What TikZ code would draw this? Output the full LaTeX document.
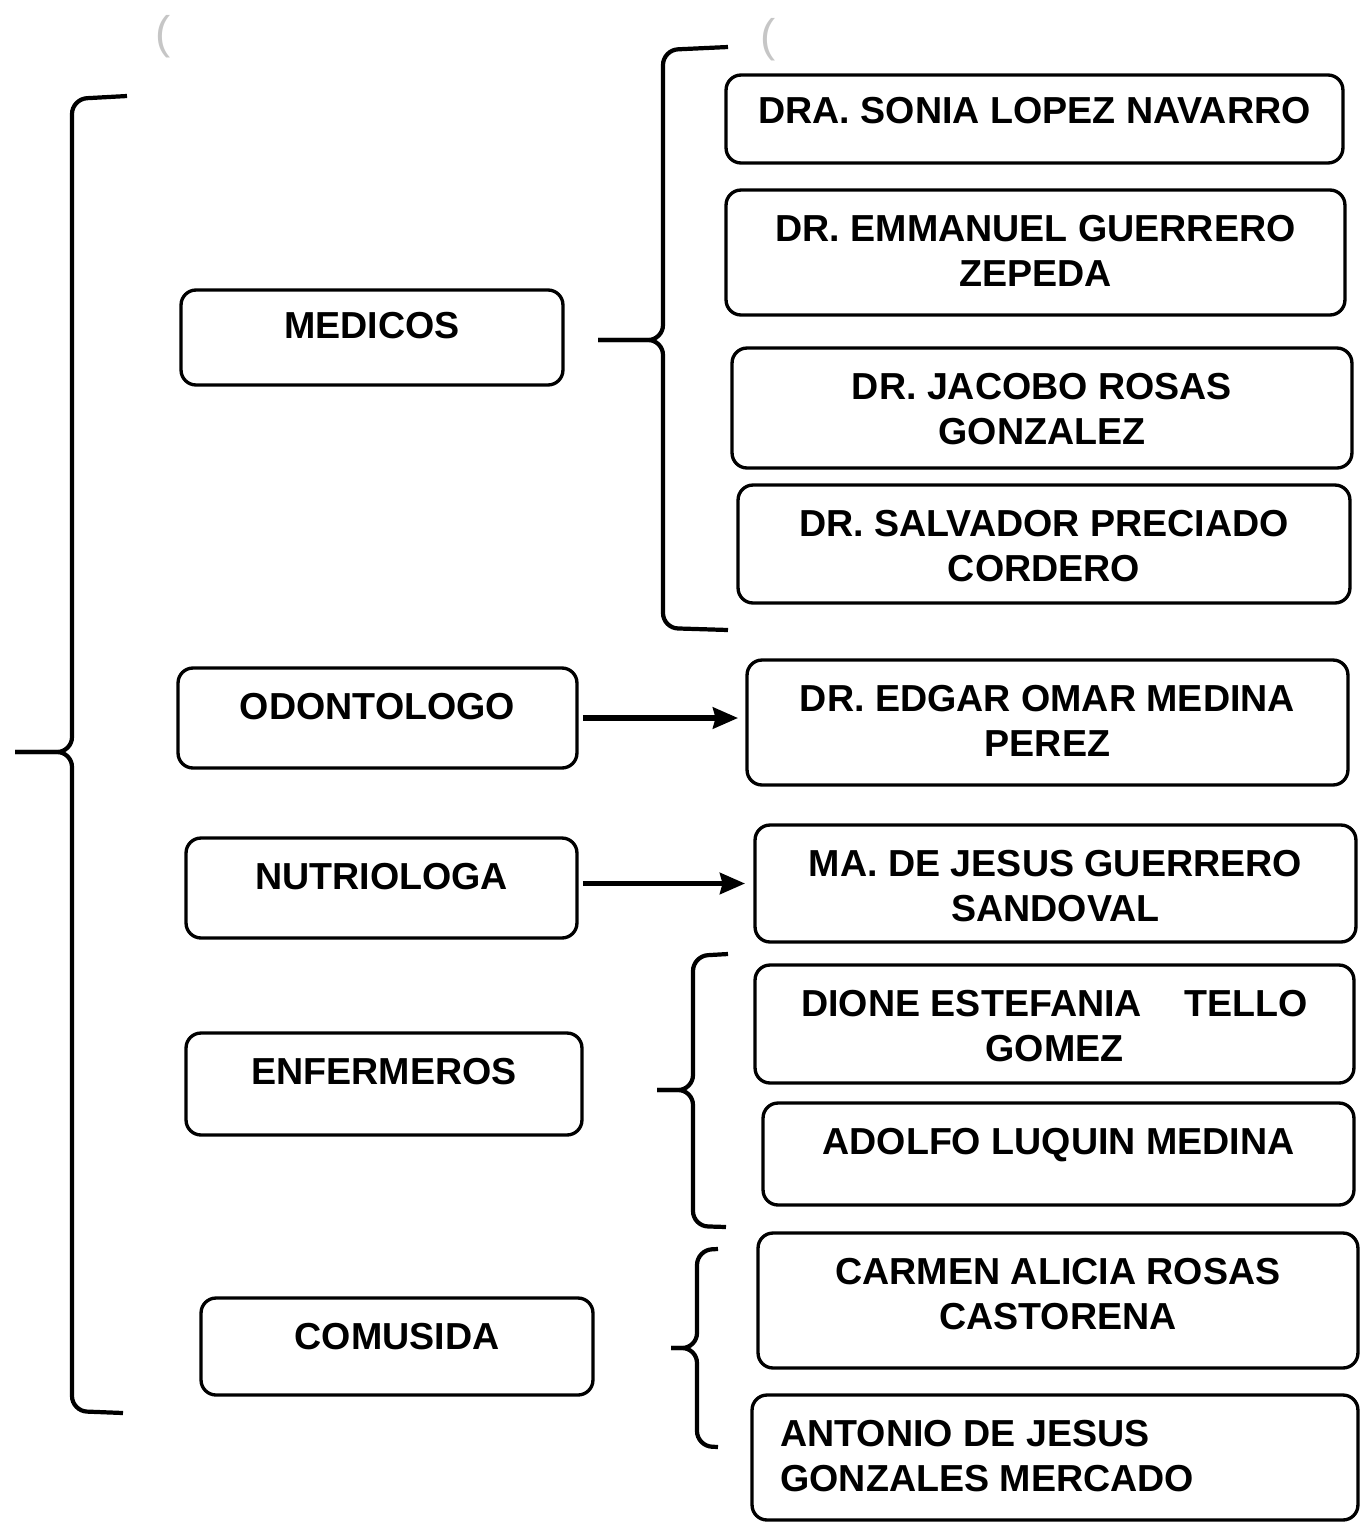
\documentclass[tikz,border=0pt]{standalone}
\usepackage{fontspec}
\setmainfont{Liberation Sans}
\usepackage{tikz}
\usetikzlibrary{
    arrows.meta,
    positioning
}
\tikzstyle{box} = [
    rectangle, draw,
    rounded corners=0.3cm,
    line width=1.9pt,
    inner sep=0pt,
    outer sep=0pt
]
\tikzstyle{txt} = [
    anchor=north,
    yshift=-0.5cm,
    inner sep=0pt,
    align=center,
    font=\bfseries\fontsize{21.4}{25.6}\selectfont
]
\tikzstyle{brace} = [
    line width=2.4pt,
    rounded corners=0.3cm
]
\tikzstyle{arrow} = [
    line width=3pt,
    -{Stealth[length=0.5cm, width=0.42cm, inset=0.05cm]}
]

\begin{document}
\begin{tikzpicture}[
    x=0.02cm, y=-0.02cm,
    smudge/.style={text=gray!45, inner sep=0pt, font=\fontsize{26}{26}\selectfont}
]
\useasboundingbox (0,0) rectangle (1361,1526);

% Kategorien
\node (medicos) [box, minimum width=7.64cm, minimum height=1.9cm] at (372,337.5)
    [label={[txt, yshift=0.06cm]north:MEDICOS}] {};
\node (odontologo) [box, minimum width=7.98cm, minimum height=2cm] at (377.5,718)
    [label={[txt]north:ODONTOLOGO}] {};
\node (nutriologa) [box, minimum width=7.82cm, minimum height=2cm] at (381.5,888)
    [label={[txt]north:NUTRIOLOGA}] {};
\node (enfermeros) [box, minimum width=7.92cm, minimum height=2.04cm] at (384,1084)
    [label={[txt]north:ENFERMEROS}] {};
\node (comusida) [box, minimum width=7.84cm, minimum height=1.94cm] at (397,1346.5)
    [label={[txt]north:COMUSIDA}] {};

% Personal
\node (lopez) [box, minimum width=12.34cm, minimum height=1.76cm] at (1034.5,119)
    [label={[txt, yshift=0.06cm]north:DRA. SONIA LOPEZ NAVARRO}] {};
\node (guerrero) [box, minimum width=12.38cm, minimum height=2.5cm] at (1035.5,252.5)
    [label={[txt]north:{DR. EMMANUEL GUERRERO\\ZEPEDA}}] {};
\node (rosas) [box, minimum width=12.4cm, minimum height=2.4cm] at (1042,408)
    [label={[txt]north:{DR. JACOBO ROSAS\\GONZALEZ}}] {};
\node (preciado) [box, minimum width=12.24cm, minimum height=2.36cm] at (1044,544)
    [label={[txt]north:{DR. SALVADOR PRECIADO\\CORDERO}}] {};
\node (medina) [box, minimum width=12.02cm, minimum height=2.5cm] at (1047.5,722.5)
    [label={[txt]north:{DR. EDGAR OMAR MEDINA\\PEREZ}}] {};
\node (sandoval) [box, minimum width=12.02cm, minimum height=2.34cm] at (1055.5,883.5)
    [label={[txt]north:{MA. DE JESUS GUERRERO\\SANDOVAL}}] {};
\node (tello) [box, minimum width=11.98cm, minimum height=2.36cm] at (1054.5,1024)
    [label={[txt]north:{DIONE ESTEFANIA\hspace{0.85cm}TELLO\\GOMEZ}}] {};
\node (luquin) [box, minimum width=11.82cm, minimum height=2.04cm] at (1058.5,1154)
    [label={[txt]north:ADOLFO LUQUIN MEDINA}] {};
\node (castorena) [box, minimum width=12cm, minimum height=2.7cm] at (1058,1300.5)
    [label={[txt]north:{CARMEN ALICIA ROSAS\\CASTORENA}}] {};
\node (mercado) [box, minimum width=12.12cm, minimum height=2.5cm] at (1055,1457.5)
    [label={[txt, anchor=north west, align=left, xshift=0.56cm]north west:{ANTONIO DE JESUS\\GONZALES MERCADO}}] {};

\node (smudge1) [smudge] at (163,37) {(};
\node (smudge2) [smudge] at (768,40) {(};

% Klammern
\coordinate (tip0) at (15,752);
\coordinate (tip1) at (598,340);
\coordinate (tip2) at (657,1090);
\coordinate (tip3) at (671,1348);

\draw [brace] (127,96) -- (72,99) -- (72,752) -- (tip0);
\draw [brace] (123,1413) -- (72,1411) -- (72,752) -- (tip0);

\draw [brace] (728,47) -- (663,50) -- (663,340) -- (tip1);
\draw [brace] (728,630) -- (663,628) -- (663,340) -- (tip1);

\draw [brace] (728,954) -- (693,956) -- (693,1090) -- (tip2);
\draw [brace] (726,1227) -- (693,1226) -- (693,1090) -- (tip2);

\draw [brace] (718,1249) -- (697,1250) -- (697,1348) -- (tip3);
\draw [brace] (718,1447) -- (697,1446) -- (697,1348) -- (tip3);

% Pfeile
\draw [arrow, shorten <=0.12cm, shorten >=0.18cm] (odontologo.east) -- (odontologo.east -| medina.west);
\draw [arrow, shorten <=0.12cm, shorten >=0.2cm] (nutriologa.east |- sandoval.west) -- (sandoval.west);

\end{tikzpicture}
\end{document}
